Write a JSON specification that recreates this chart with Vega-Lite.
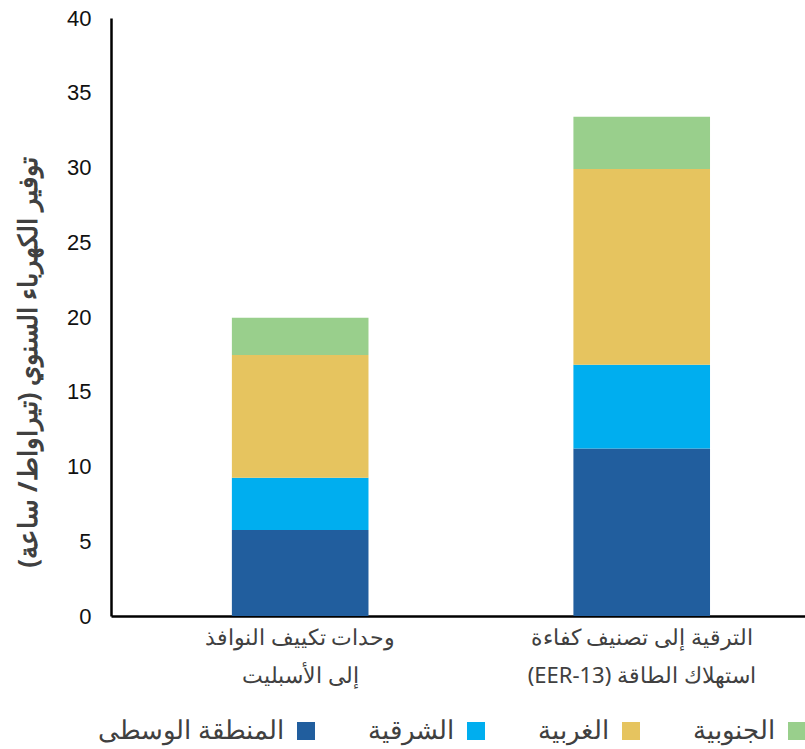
{
  "$schema": "https://vega.github.io/schema/vega-lite/v6.json",
  "width": 694,
  "height": 598,
  "autosize": "none",
  "padding": {"left": 111, "top": 18, "right": 0, "bottom": 133},
  "background": "white",
  "config": {
    "view": {"stroke": null},
    "font": "Noto Sans"
  },
  "data": {
    "values": [
      {"measure": "\u202Bوحدات تكييف النوافذ\u202C\n\u202Bإلى الأسبليت\u202C", "region": "المنطقة الوسطى", "rank": 1, "saving": 5.75},
      {"measure": "\u202Bوحدات تكييف النوافذ\u202C\n\u202Bإلى الأسبليت\u202C", "region": "الشرقية", "rank": 2, "saving": 3.5},
      {"measure": "\u202Bوحدات تكييف النوافذ\u202C\n\u202Bإلى الأسبليت\u202C", "region": "الغربية", "rank": 3, "saving": 8.2},
      {"measure": "\u202Bوحدات تكييف النوافذ\u202C\n\u202Bإلى الأسبليت\u202C", "region": "الجنوبية", "rank": 4, "saving": 2.5},
      {"measure": "\u202Bالترقية إلى تصنيف كفاءة\u202C\n\u202Bاستهلاك الطاقة (EER-13)\u202C", "region": "المنطقة الوسطى", "rank": 1, "saving": 11.2},
      {"measure": "\u202Bالترقية إلى تصنيف كفاءة\u202C\n\u202Bاستهلاك الطاقة (EER-13)\u202C", "region": "الشرقية", "rank": 2, "saving": 5.6},
      {"measure": "\u202Bالترقية إلى تصنيف كفاءة\u202C\n\u202Bاستهلاك الطاقة (EER-13)\u202C", "region": "الغربية", "rank": 3, "saving": 13.1},
      {"measure": "\u202Bالترقية إلى تصنيف كفاءة\u202C\n\u202Bاستهلاك الطاقة (EER-13)\u202C", "region": "الجنوبية", "rank": 4, "saving": 3.5}
    ]
  },
  "mark": {"type": "bar"},
  "encoding": {
    "x": {
      "field": "measure",
      "type": "nominal",
      "sort": null,
      "scale": {"paddingInner": 0.6, "paddingOuter": 0.316, "align": 0.56},
      "axis": {
        "title": null,
        "labelAngle": 0,
        "labelExpr": "split(datum.label, '\\n')",
        "labelFontSize": 22,
        "labelLineHeight": 38,
        "labelColor": "#404040",
        "labelPadding": 11,
        "labelLimit": 400,
        "ticks": false,
        "domainColor": "#000000",
        "domainWidth": 2.5
      }
    },
    "y": {
      "field": "saving",
      "type": "quantitative",
      "stack": "zero",
      "scale": {"domain": [0, 40]},
      "axis": {
        "values": [0, 5, 10, 15, 20, 25, 30, 35, 40],
        "grid": false,
        "ticks": false,
        "domainColor": "#000000",
        "domainWidth": 2.5,
        "labelFont": "Liberation Sans",
        "labelFontSize": 22,
        "labelColor": "#111111",
        "labelPadding": 20,
        "title": "\u202Bتوفير الكهرباء السنوي (تيراواط/ ساعة)\u202C",
        "titleFontSize": 26,
        "titleFontWeight": "bold",
        "titleColor": "#404040",
        "titleX": -83,
        "titleY": 344,
        "titleBaseline": "middle"
      }
    },
    "color": {
      "field": "region",
      "type": "nominal",
      "scale": {
        "domain": ["المنطقة الوسطى", "الشرقية", "الغربية", "الجنوبية"],
        "range": ["#215E9E", "#00AEEF", "#E6C45F", "#99CF8C"]
      },
      "legend": {
        "title": null,
        "orient": "none",
        "direction": "horizontal",
        "legendX": 182,
        "legendY": 700,
        "symbolType": "square",
        "symbolSize": 324,
        "symbolStrokeWidth": 0,
        "labelFontSize": 26,
        "labelColor": "#404040",
        "labelAlign": "right",
        "labelOffset": -35,
        "labelLimit": 300,
        "columnPadding": 53
      }
    },
    "order": {"field": "rank", "type": "quantitative"}
  }
}
